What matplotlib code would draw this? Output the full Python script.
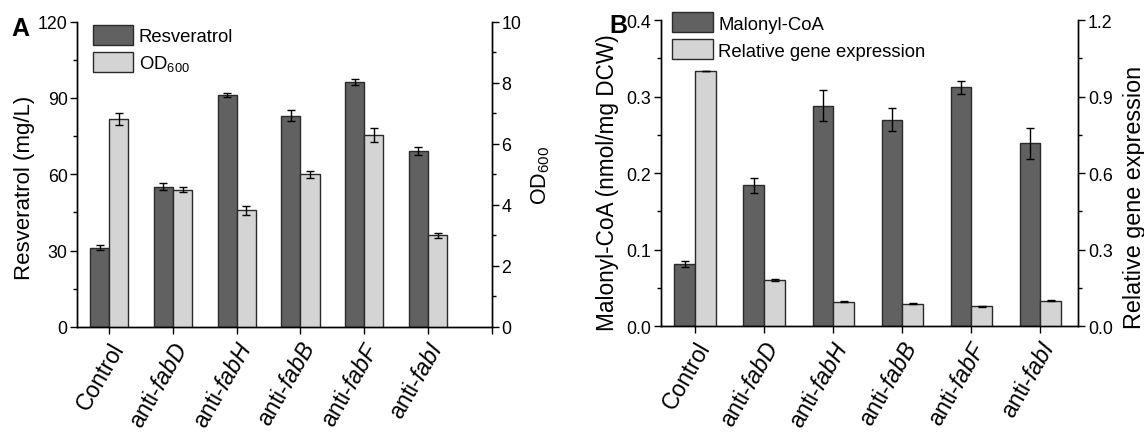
import matplotlib
matplotlib.use("Agg")
import matplotlib.pyplot as plt
from matplotlib.ticker import MultipleLocator, FormatStrFormatter
import numpy as np

plt.rcParams['font.family'] = ['Liberation Sans', 'DejaVu Sans']
plt.rcParams['mathtext.fontset'] = 'custom'
plt.rcParams['mathtext.rm'] = 'Liberation Sans'
plt.rcParams['mathtext.it'] = 'Liberation Sans:italic'
plt.rcParams['mathtext.bf'] = 'Liberation Sans:bold'

# ---- data ----
categories = ['Control', 'anti-$\\it{fabD}$', 'anti-$\\it{fabH}$', 'anti-$\\it{fabB}$',
              'anti-$\\it{fabF}$', 'anti-$\\it{fabI}$']
resveratrol = [31.2, 55.2, 91.0, 83.1, 96.2, 69.1]
resveratrol_err = [1.0, 1.5, 0.8, 2.0, 1.3, 1.5]
od600 = [6.8, 4.5, 3.82, 5.0, 6.3, 3.0]
od600_err = [0.2, 0.09, 0.14, 0.12, 0.23, 0.08]
malonyl = [0.081, 0.184, 0.288, 0.270, 0.312, 0.239]
malonyl_err = [0.004, 0.0095, 0.020, 0.015, 0.009, 0.020]
gene_expr = [1.0, 0.182, 0.096, 0.088, 0.079, 0.100]
gene_expr_err = [0.0, 0.005, 0.002, 0.002, 0.002, 0.002]

dark = '#616161'
light = '#d3d4d3'
edge = '#2a2a2a'
w = 0.3

fig = plt.figure(figsize=(11.44, 4.35), dpi=100)

def style_axes(ax, ax2):
    for a in (ax, ax2):
        a.spines['top'].set_visible(False)
        for s in ('left', 'right', 'bottom'):
            a.spines[s].set_linewidth(1.0)
    for a in (ax, ax2):
        a.tick_params(axis='y', which='major', direction='out', length=5, width=1, labelsize=12.8, pad=2)
        a.tick_params(axis='y', which='minor', direction='out', length=3, width=1)
    ax.tick_params(axis='x', which='major', direction='out', length=5, width=1, labelsize=16.5, pad=3)

x = np.arange(1, len(categories) + 1)
leg_kw = dict(loc='upper left', frameon=False, fontsize=13.3, handlelength=2.2, handleheight=1.3,
              handletextpad=0.3, labelspacing=0.36, borderaxespad=0, borderpad=0)

# ---- Panel A ----
axA = fig.add_axes([0.0676, 0.246, 0.3622, 0.702])
axA2 = axA.twinx()
axA.bar(x - w / 2, resveratrol, w, color=dark, edgecolor=edge, linewidth=1, zorder=2)
axA.errorbar(x - w / 2, resveratrol, yerr=resveratrol_err, fmt='none', ecolor='black', elinewidth=1, capsize=3, capthick=1, zorder=3)
axA2.bar(x + w / 2, od600, w, color=light, edgecolor=edge, linewidth=1, zorder=2)
axA2.errorbar(x + w / 2, od600, yerr=od600_err, fmt='none', ecolor='black', elinewidth=1, capsize=3, capthick=1, zorder=3)
axA.set_xlim(0.5, 7)
axA.set_ylim(0, 120)
axA2.set_ylim(0, 10)
axA.yaxis.set_major_locator(MultipleLocator(30))
axA.yaxis.set_minor_locator(MultipleLocator(15))
axA2.yaxis.set_major_locator(MultipleLocator(2))
axA2.yaxis.set_minor_locator(MultipleLocator(1))
axA.set_xticks(list(x) + [7])
axA.set_xticklabels(categories + [''], rotation=60, ha='right', va='top', rotation_mode='anchor')
style_axes(axA, axA2)
axA.set_ylabel('Resveratrol (mg/L)', fontsize=16)
axA.yaxis.set_label_coords(-0.102, 0.46)
axA2.set_ylabel('OD$_{600}$', fontsize=15.5)
axA2.yaxis.set_label_coords(1.092, 0.5)
hA = [axA.patches[0], axA2.patches[0]]
axA.legend(hA, ['Resveratrol', 'OD$_{600}$'], bbox_to_anchor=(0.037, 0.99), **leg_kw)

# ---- Panel B ----
axB = fig.add_axes([0.5775, 0.2476, 0.365, 0.7041])
axB2 = axB.twinx()
axB.bar(x - w / 2, malonyl, w, color=dark, edgecolor=edge, linewidth=1, zorder=2)
axB.errorbar(x - w / 2, malonyl, yerr=malonyl_err, fmt='none', ecolor='black', elinewidth=1, capsize=3, capthick=1, zorder=3)
axB2.bar(x + w / 2, gene_expr, w, color=light, edgecolor=edge, linewidth=1, zorder=2)
axB2.errorbar(x + w / 2, gene_expr, yerr=gene_expr_err, fmt='none', ecolor='black', elinewidth=1, capsize=3, capthick=1, zorder=3)
axB.set_xlim(0.5, 6.55)
axB.set_ylim(0, 0.4)
axB2.set_ylim(0, 1.2)
axB.yaxis.set_major_locator(MultipleLocator(0.1))
axB.yaxis.set_minor_locator(MultipleLocator(0.05))
axB2.yaxis.set_major_locator(MultipleLocator(0.3))
axB2.yaxis.set_minor_locator(MultipleLocator(0.15))
axB.yaxis.set_major_formatter(FormatStrFormatter('%.1f'))
axB2.yaxis.set_major_formatter(FormatStrFormatter('%.1f'))
axB.set_xticks(x)
axB.set_xticklabels(categories, rotation=60, ha='right', va='top', rotation_mode='anchor')
style_axes(axB, axB2)
axB.set_ylabel('Malonyl-CoA (nmol/mg DCW)', fontsize=16.3)
axB.yaxis.set_label_coords(-0.1, 0.472)
axB2.set_ylabel('Relative gene expression', fontsize=16.8)
axB2.yaxis.set_label_coords(1.107, 0.424)
hB = [axB.patches[0], axB2.patches[0]]
axB.legend(hB, ['Malonyl-CoA', 'Relative gene expression'], bbox_to_anchor=(0.027, 1.025), **leg_kw)

fig.text(0.010, 0.962, 'A', fontsize=18, fontweight='bold', va='top', ha='left')
fig.text(0.533, 0.967, 'B', fontsize=18, fontweight='bold', va='top', ha='left')

fig.savefig('out.png', dpi=100)
